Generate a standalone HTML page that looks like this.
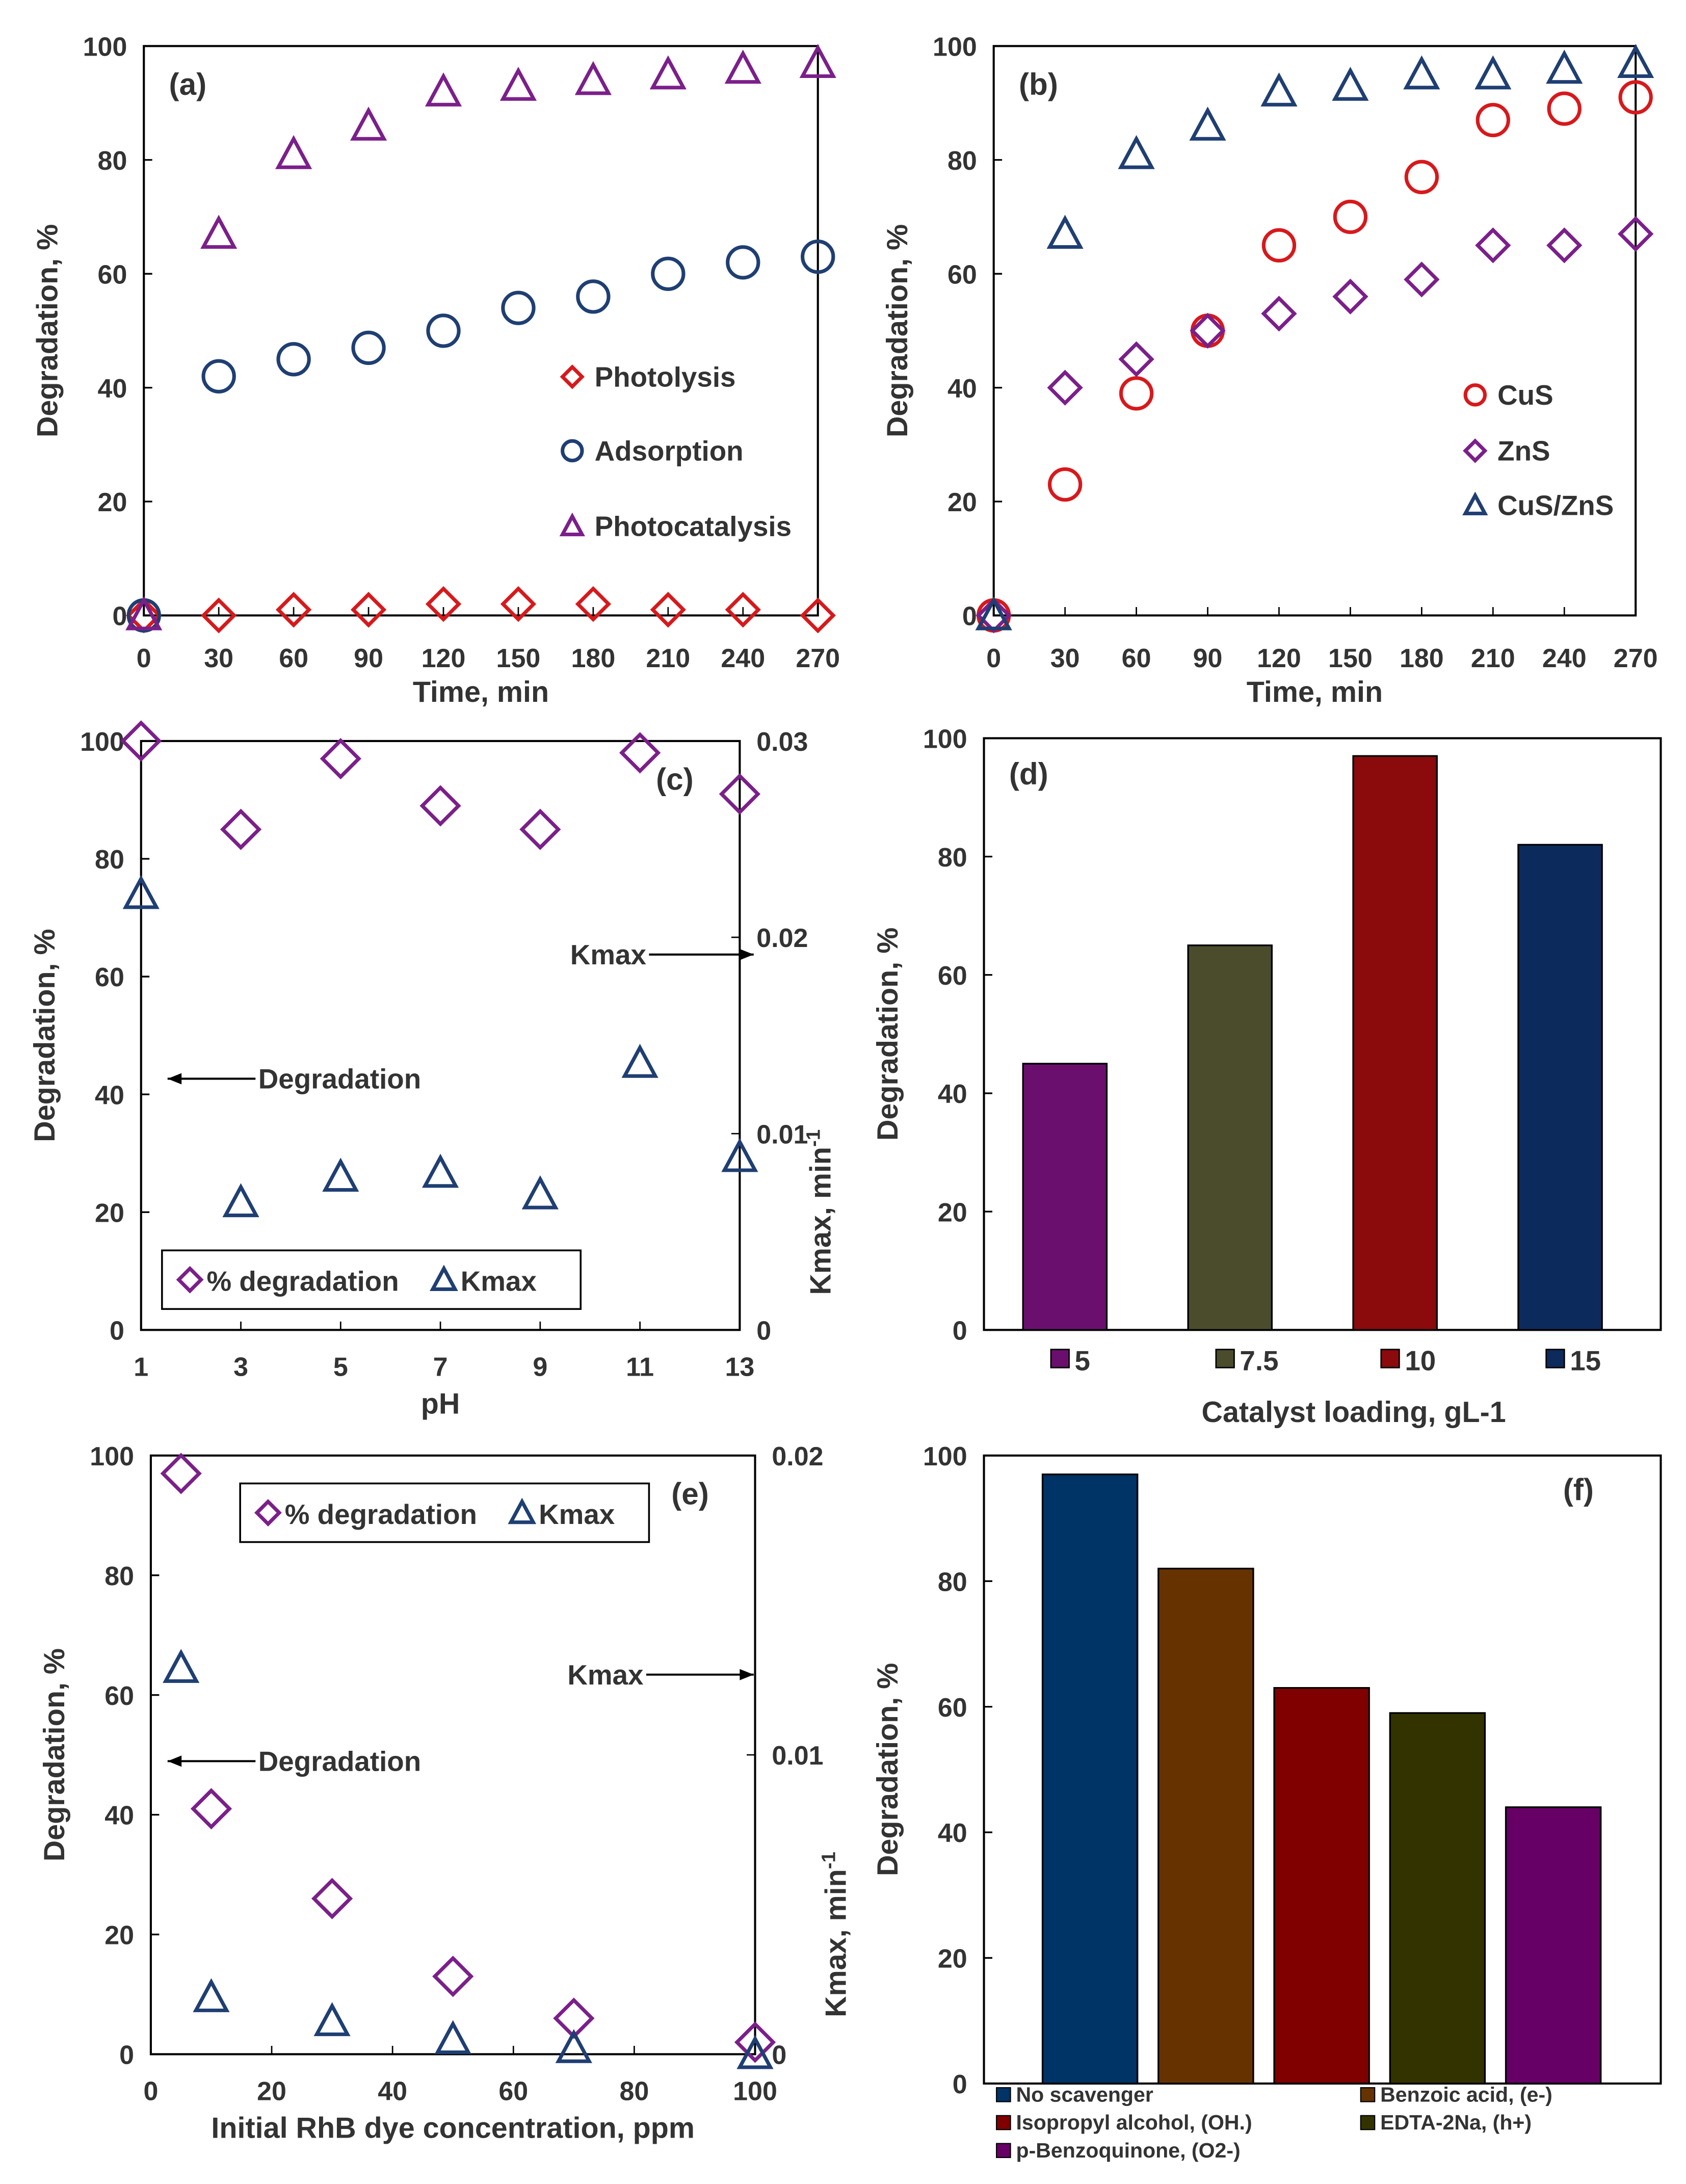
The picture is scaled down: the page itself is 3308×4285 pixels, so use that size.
<!DOCTYPE html>
<html><head><meta charset="utf-8"><style>
html,body{margin:0;padding:0;background:#fff}
svg{display:block}
text{font-family:"Liberation Sans",sans-serif;font-weight:bold;fill:#333}
</style></head><body>
<svg id="s" width="3308" height="4285" viewBox="0 0 1208 1565" xmlns="http://www.w3.org/2000/svg"></svg>
<script>
const timeCats=[0,30,60,90,120,150,180,210,240,270];
const aPhotolysis=[0,0,1,1,2,2,2,1,1,0];
const aAdsorption=[0,42,45,47,50,54,56,60,62,63];
const aPhotocat=[0,67,81,86,92,93,94,95,96,97];
const bCuS=[0,23,39,50,65,70,77,87,89,91];
const bZnS=[0,40,45,50,53,56,59,65,65,67];
const bCuSZnS=[0,67,81,86,92,93,95,95,96,97];
const cPH=[1,3,5,7,9,11,13];
const cDeg=[100,85,97,89,85,98,91];
const cK=[0.0222,0.0065,0.0078,0.008,0.0069,0.0136,0.0088];
const dCats=["5","7.5","10","15"];
const dVals=[45,65,97,82];
const eConc=[5,10,30,50,70,100];
const eDeg=[97,41,26,13,6,2];
const eK=[0.0129,0.0019,0.0011,0.0005,0.0002,0];
const fCats=["No scavenger","Benzoic acid, (e-)","Isopropyl alcohol, (OH.)","EDTA-2Na, (h+)","p-Benzoquinone, (O2-)"];
const fVals=[97,82,63,59,44];
const S=document.getElementById('s');
const NS='http://www.w3.org/2000/svg';
function el(tag,attrs,parent,name,txt){const e=document.createElementNS(NS,tag);for(const k in attrs)e.setAttribute(k,attrs[k]);


if(txt!==undefined)e.textContent=txt;(parent||S).appendChild(e);return e;}
function lin(d0,d1,r0,r1){return v=>r0+(v-d0)*(r1-r0)/(d1-d0);}
function marker(g,type,x,y,col,name,sz){sz=sz||11;
 if(type==='c')el('circle',{cx:x,cy:y,r:sz,fill:'none',stroke:col,'stroke-width':2.6},g,name);
 else if(type==='d')el('polygon',{points:`${x},${y-sz} ${x+sz},${y} ${x},${y+sz} ${x-sz},${y}`,fill:'none',stroke:col,'stroke-width':2.6},g,name);
 else el('polygon',{points:`${x},${y-sz} ${x+sz},${y+sz*0.85} ${x-sz},${y+sz*0.85}`,fill:'none',stroke:col,'stroke-width':2.6},g,name);}
function box(x0,y0,x1,y1,name){el('rect',{x:x0,y:y0,width:x1-x0,height:y1-y0,fill:'none',stroke:'#000','stroke-width':1.5},S,name);}
function yTicks(x,y0,y1,ticks,fmt,side,name){const ys=lin(0,ticks[ticks.length-1],y0,y1);
 ticks.forEach(t=>{const y=ys(t);el('line',{x1:x,x2:x+(side<0?6:-6),y1:y,y2:y,stroke:'#000','stroke-width':1.2},S,name+'-tick');
 el('text',{x:side<0?x-12:x+12,y:y+7,'font-size':19,'text-anchor':side<0?'end':'start'},S,name+'-label',fmt(t));});}
function ylabel(x,y,t,name){el('text',{x:x,y:y,'font-size':21,'text-anchor':'middle',transform:`rotate(-90 ${x} ${y})`},S,name,t);}
const CR='#d7191c',CP='#7b1f8a',CB='#1f3f73';
function timePanel(x0,x1,y0,y1,series,lbl,legend,name){
 box(x0,y0,x1,y1,name+'-plot-area');
 const xs=lin(0,270,x0,x1),ys=lin(0,100,y1,y0);
 yTicks(x0,y1,y0,[0,20,40,60,80,100],t=>t,-1,name+'-y');
 timeCats.forEach(t=>{el('line',{x1:xs(t),x2:xs(t),y1:y1,y2:y1-6,stroke:'#000'},S,name+'-x-tick');
  el('text',{x:xs(t),y:y1+37,'font-size':19,'text-anchor':'middle'},S,name+'-x-label',t);});
 el('text',{x:(x0+x1)/2,y:y1+62,'font-size':21,'text-anchor':'middle'},S,name+'-x-title','Time, min');
 ylabel(x0-62,(y0+y1)/2,'Degradation, %',name+'-y-title');
 el('text',{x:x0+18,y:y0+35,'font-size':22},S,name+'-panel-label',lbl);
 const g=el('g',{},S,name+'-series');
 series.forEach(s=>s.v.forEach((v,i)=>marker(g,s.m,xs(timeCats[i]),ys(v),s.c,name+'-point')));
 legend.forEach(l=>{marker(S,l.m,l.x,l.y,l.c,name+'-legend-marker',7);el('text',{x:l.x+16,y:l.y+7,'font-size':20},S,name+'-legend-entry',l.t);});
}
timePanel(103,586,33,441,[{v:aPhotolysis,m:'d',c:CR},{v:aAdsorption,m:'c',c:CB},{v:aPhotocat,m:'t',c:CP}],'(a)',
 [{m:'d',c:CR,x:410,y:270,t:'Photolysis'},{m:'c',c:CB,x:410,y:323,t:'Adsorption'},{m:'t',c:CP,x:410,y:377,t:'Photocatalysis'}],'panel-a');
timePanel(712,1172,33,441,[{v:bCuS,m:'c',c:CR},{v:bZnS,m:'d',c:CP},{v:bCuSZnS,m:'t',c:CB}],'(b)',
 [{m:'c',c:CR,x:1057,y:283,t:'CuS'},{m:'d',c:CP,x:1057,y:323,t:'ZnS'},{m:'t',c:CB,x:1057,y:362,t:'CuS/ZnS'}],'panel-b');
function dualPanel(x0,x1,y0,y1,xd,xTicks,xFmt,deg,k,kMax,kTicks,lbl,xt,leg,arr,name){
 box(x0,y0,x1,y1,name+'-plot-area');
 const xs=lin(xd[0],xd[1],x0,x1),ys=lin(0,100,y1,y0),ks=lin(0,kMax,y1,y0);
 yTicks(x0,y1,y0,[0,20,40,60,80,100],t=>t,-1,name+'-y');
 kTicks.forEach(t=>{const y=ks(t);el('line',{x1:x1,x2:x1-6,y1:y,y2:y,stroke:'#000'},S,name+'-y2-tick');
  el('text',{x:x1+12,y:y+7,'font-size':19},S,name+'-y2-label',t);});
 xTicks.forEach(t=>{el('line',{x1:xs(t),x2:xs(t),y1:y1,y2:y1-6,stroke:'#000'},S,name+'-x-tick');
  el('text',{x:xs(t),y:y1+33,'font-size':19,'text-anchor':'middle'},S,name+'-x-label',t);});
 el('text',{x:(x0+x1)/2,y:y1+60,'font-size':21,'text-anchor':'middle'},S,name+'-x-title',xt);
 ylabel(x0-62,(y0+y1)/2,'Degradation, %',name+'-y-title');
 const y2x=x1+65,y2y=y0+(y1-y0)*0.8;
 const t2=el('text',{x:y2x,y:y2y,'font-size':21,'text-anchor':'middle',transform:`rotate(-90 ${y2x} ${y2y})`},S,name+'-y2-title','Kmax, min');
 const ts=document.createElementNS(NS,'tspan');ts.setAttribute('baseline-shift','super');ts.setAttribute('font-size','14');ts.textContent='-1';
 
 
 t2.appendChild(ts);
 el('text',{x:x1-60,y:y0+35,'font-size':22},S,name+'-panel-label',lbl);
 const g=el('g',{},S,name+'-series');
 deg.forEach((v,i)=>marker(g,'d',xs(xd[2][i]),ys(v),CP,name+'-degradation-point',13));
 k.forEach((v,i)=>marker(g,'t',xs(xd[2][i]),ks(v),CB,name+'-kmax-point',11));
 el('rect',{x:leg[0],y:leg[1],width:leg[2],height:42,fill:'#fff',stroke:'#000','stroke-width':1.3},S,name+'-legend');
 marker(S,'d',leg[0]+20,leg[1]+21,CP,name+'-legend-marker',8);
 el('text',{x:leg[0]+32,y:leg[1]+29,'font-size':20},S,name+'-legend-entry','% degradation');
 marker(S,'t',leg[0]+202,leg[1]+21,CB,name+'-legend-marker',8);
 el('text',{x:leg[0]+214,y:leg[1]+29,'font-size':20},S,name+'-legend-entry','Kmax');
 el('line',{x1:arr[2],x2:arr[3],y1:arr[1],y2:arr[1],stroke:'#000','stroke-width':1.5},S,name+'-kmax-arrow');
 el('polygon',{points:`${arr[3]},${arr[1]} ${arr[3]-10},${arr[1]-4} ${arr[3]-10},${arr[1]+4}`,fill:'#000'},S,name+'-kmax-arrowhead');
 el('text',{x:arr[2]-2,y:arr[1]+7,'font-size':20,'text-anchor':'end'},S,name+'-kmax-annotation','Kmax');
 el('line',{x1:arr[5],x2:arr[6],y1:arr[4],y2:arr[4],stroke:'#000','stroke-width':1.5},S,name+'-degradation-arrow');
 el('polygon',{points:`${arr[6]},${arr[4]} ${arr[6]+10},${arr[4]-4} ${arr[6]+10},${arr[4]+4}`,fill:'#000'},S,name+'-degradation-arrowhead');
 el('text',{x:arr[5]+2,y:arr[4]+7,'font-size':20},S,name+'-degradation-annotation','Degradation');
}
dualPanel(101,530,531,953,[1,13,cPH],cPH,null,cDeg,cK,0.03,[0,0.01,0.02,0.03],'(c)','pH',[116,896,300],[0,684,465,540,773,183,120],'panel-c');
dualPanel(108,541,1043,1472,[0,100,eConc],[0,20,40,60,80,100],null,eDeg,eK,0.02,[0,0.01,0.02],'(e)','Initial RhB dye concentration, ppm',[172,1063,293],[0,1200,463,540,1262,183,120],'panel-e');
(function(){const name='panel-d',x0=705,x1=1190,y0=529,y1=953;
 box(x0,y0,x1,y1,name+'-plot-area');
 yTicks(x0,y1,y0,[0,20,40,60,80,100],t=>t,-1,name+'-y');
 ylabel(x0-62,(y0+y1)/2,'Degradation, %',name+'-y-title');
 el('text',{x:723,y:562,'font-size':22},S,name+'-panel-label','(d)');
 const cols=['#6b0f6e','#4a4c2c','#8b0a0c','#0d2a5c'];const ys=lin(0,100,y1,y0);
 dVals.forEach((v,i)=>{const cx=x0+58+118.3*i;
  el('rect',{x:cx-30,y:ys(v),width:60,height:y1-ys(v),fill:cols[i],stroke:'#000','stroke-width':1.2},S,'bar-'+dCats[i]);
  el('rect',{x:cx-10,y:967,width:13,height:13,fill:cols[i],stroke:'#000'},S,name+'-legend-swatch');
  el('text',{x:cx+7,y:982,'font-size':20},S,name+'-legend-entry',dCats[i]);});
 el('text',{x:970,y:1019,'font-size':21,'text-anchor':'middle'},S,name+'-x-title','Catalyst loading, gL-1');
})();
(function(){const name='panel-f',x0=705,x1=1190,y0=1043,y1=1493;
 box(x0,y0,x1,y1,name+'-plot-area');
 yTicks(x0,y1,y0,[0,20,40,60,80,100],t=>t,-1,name+'-y');
 ylabel(x0-62,(y0+y1)/2,'Degradation, %',name+'-y-title');
 el('text',{x:1120,y:1075,'font-size':22},S,name+'-panel-label','(f)');
 const cols=['#003366','#663300','#800000','#333300','#660066'];const ys=lin(0,100,y1,y0);
 fVals.forEach((v,i)=>{const cx=781+83*i;
  el('rect',{x:cx-34,y:ys(v),width:68,height:y1-ys(v),fill:cols[i],stroke:'#000','stroke-width':1.2},S,'bar-scavenger-'+i);
  const lx=i%2===0?714:975,ly=1506+Math.floor(i/2)*20;
  el('rect',{x:lx,y:ly-10,width:10,height:10,fill:cols[i],stroke:'#000','stroke-width':0.8},S,name+'-legend-swatch');
  el('text',{x:lx+14,y:ly,'font-size':15},S,name+'-legend-entry',fCats[i]);});
})();
</script>
</body></html>
